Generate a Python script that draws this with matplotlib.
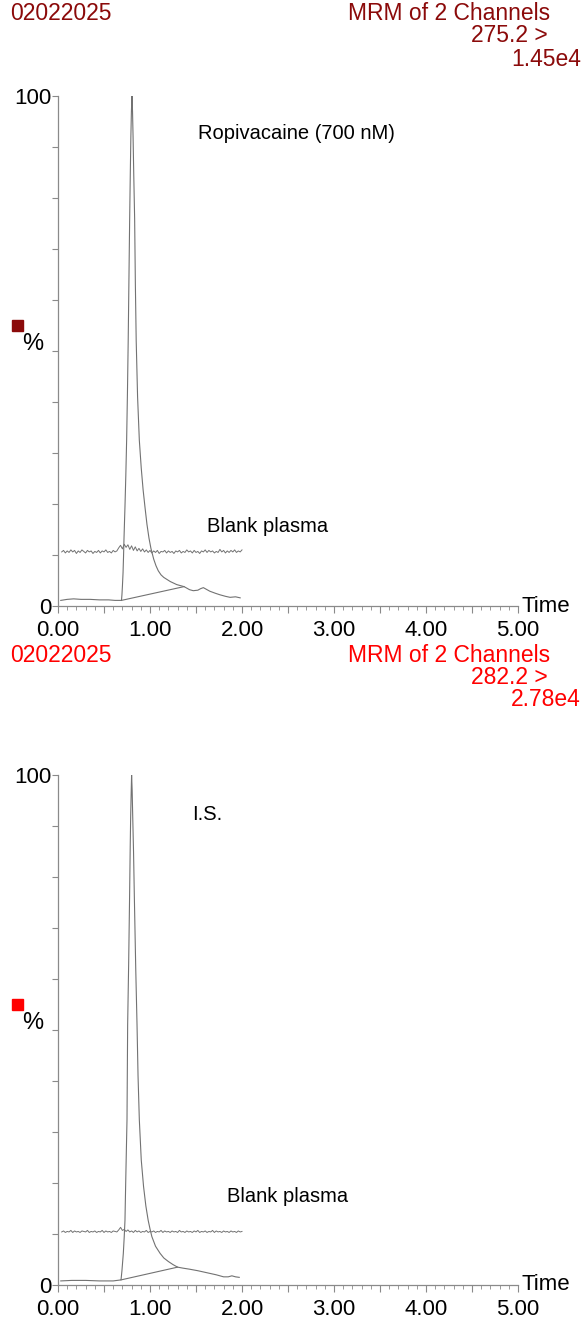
import matplotlib

matplotlib.use("Agg")
import matplotlib.pyplot as plt
import numpy as np
from matplotlib.patches import Rectangle
from matplotlib.ticker import MultipleLocator, FixedLocator, FuncFormatter

plt.rcParams["font.family"] = ["Liberation Sans", "DejaVu Sans"]

W, H = 586, 1321

# ---- header texts ----
run_id = "02022025"
header_title = "MRM of 2 Channels"
transitions = ["275.2 >", "282.2 >"]
intensities = ["1.45e4", "2.78e4"]
header_colors = ["#8b0a0a", "#ff0000"]
peak_labels = ["Ropivacaine (700 nM)", "I.S."]
blank_label = "Blank plasma"

# ---- analyte trace (top), time in min, intensity in % ----
ropi_t = [0.03, 0.10, 0.17, 0.25, 0.35, 0.45, 0.55, 0.62, 0.69, 0.695, 0.70,
          0.707, 0.712, 0.717, 0.722, 0.728, 0.737, 0.746, 0.755, 0.763, 0.771,
          0.779, 0.786, 0.792, 0.798, 0.804, 0.810, 0.816, 0.824, 0.833, 0.841,
          0.850, 0.865, 0.884, 0.905, 0.925, 0.946, 0.967, 0.989, 1.01, 1.04,
          1.065, 1.09, 1.12, 1.15, 1.185, 1.22, 1.255, 1.29, 1.33, 1.37, 1.43,
          1.47, 1.52, 1.55, 1.58, 1.62, 1.65, 1.71, 1.76, 1.82, 1.87, 1.93, 1.98]
ropi_y = [1.1, 1.3, 1.4, 1.3, 1.3, 1.2, 1.2, 1.1, 1.1, 2.2, 3.8,
          6.5, 9.5, 13.0, 16.0, 19.5, 25.5, 32.5, 42.0, 52.0, 64.0,
          76.0, 85.0, 92.0, 97.0, 100.0, 97.0, 92.0, 84.0, 76.0, 63.0,
          52.0, 41.0, 32.5, 27.0, 22.8, 19.3, 16.0, 13.3, 11.3, 9.2,
          7.9, 6.9, 6.1, 5.6, 5.2, 4.8, 4.5, 4.2, 4.0, 3.8, 3.2,
          3.0, 3.1, 3.4, 3.6, 3.2, 2.9, 2.5, 2.2, 1.9, 1.7, 1.8, 1.6]
ropi_base = ([0.69, 1.37], [1.1, 3.8])

# ---- internal standard trace (bottom) ----
is_t = [0.03, 0.15, 0.30, 0.45, 0.60, 0.685, 0.695, 0.71, 0.72, 0.728, 0.735,
        0.742, 0.750, 0.757, 0.768, 0.778, 0.785, 0.790, 0.796, 0.800, 0.806,
        0.812, 0.821, 0.830, 0.845, 0.859, 0.870, 0.884, 0.905, 0.930, 0.955,
        0.980, 1.00, 1.02, 1.06, 1.11, 1.15, 1.20, 1.25, 1.30, 1.36, 1.43,
        1.52, 1.62, 1.72, 1.80, 1.85, 1.89, 1.93, 1.97]
is_y = [0.8, 0.9, 0.9, 0.8, 0.8, 1.0, 2.8, 6.2, 9.5, 12.7, 19.3,
        25.5, 32.4, 51.0, 63.0, 76.0, 86.0, 92.0, 97.0, 100.0, 97.0,
        92.0, 85.0, 76.0, 62.0, 51.0, 41.0, 32.4, 24.5, 19.3, 15.5,
        12.7, 11.0, 9.5, 7.6, 6.2, 5.3, 4.6, 4.0, 3.5, 3.3, 3.1,
        2.8, 2.4, 2.0, 1.6, 1.6, 1.8, 1.6, 1.5]
is_base = ([0.685, 1.30], [1.0, 3.5])

# ---- blank plasma overlays (offset traces), 0.04..2.00 min every 0.02 ----
blank_t = np.round(np.arange(0.04, 2.001, 0.02), 2)
blank_top = [
    10.6, 10.9, 10.4, 10.8, 10.5, 11.0, 10.6, 10.9, 10.3, 10.8,
    10.5, 11.0, 10.7, 10.4, 10.9, 10.6, 10.8, 10.3, 10.7, 10.5,
    10.9, 10.4, 10.8, 10.6, 11.0, 10.5, 10.7, 10.4, 10.9, 10.6,
    10.8, 11.4, 11.9, 11.2, 12.1, 11.5, 12.0, 11.1, 11.8, 10.9,
    11.6, 10.8, 11.3, 10.7, 11.2, 10.6, 11.0, 10.5, 10.9, 10.4,
    10.8, 10.5, 10.9, 10.3, 10.7, 10.6, 10.9, 10.4, 10.8, 10.5,
    10.7, 10.3, 10.8, 10.6, 10.9, 10.4, 10.7, 10.5, 11.0, 10.6,
    10.8, 10.4, 10.9, 10.5, 10.7, 10.3, 10.8, 10.6, 11.0, 10.5,
    10.9, 10.6, 10.8, 10.4, 10.7, 10.5, 11.1, 10.6, 10.9, 10.4,
    10.8, 10.5, 10.9, 10.6, 11.0, 10.5, 10.8, 10.6, 11.0]
blank_bot = [
    10.4, 10.6, 10.3, 10.5, 10.4, 10.7, 10.3, 10.6, 10.4, 10.5,
    10.3, 10.6, 10.5, 10.4, 10.7, 10.3, 10.5, 10.4, 10.6, 10.3,
    10.5, 10.4, 10.7, 10.3, 10.6, 10.4, 10.5, 10.3, 10.6, 10.5,
    10.4, 10.8, 11.3, 10.7, 10.9, 10.5, 10.8, 10.4, 10.6, 10.3,
    10.7, 10.4, 10.6, 10.3, 10.5, 10.4, 10.7, 10.3, 10.5, 10.4,
    10.6, 10.3, 10.5, 10.4, 10.7, 10.3, 10.6, 10.4, 10.5, 10.3,
    10.6, 10.4, 10.5, 10.3, 10.7, 10.4, 10.5, 10.3, 10.6, 10.4,
    10.5, 10.3, 10.6, 10.4, 10.7, 10.3, 10.5, 10.4, 10.6, 10.3,
    10.5, 10.4, 10.7, 10.3, 10.6, 10.4, 10.5, 10.3, 10.6, 10.4,
    10.5, 10.3, 10.6, 10.4, 10.5, 10.3, 10.6, 10.4, 10.5]

TRACE = "#727272"
AXIS = "#8a8a8a"


def px(x, y):
    """figure pixel (from top-left) -> figure fraction"""
    return x / W, 1 - y / H


fig = plt.figure(figsize=(W / 100, H / 100), dpi=100)

panels = [
    dict(y0=96, y1=606, t=ropi_t, y=ropi_y, base=ropi_base, blank=blank_top,
         label_xy=(1.52, 92.7), blank_xy=(1.62, 15.5), hdr_y=14),
    dict(y0=775, y1=1285, t=is_t, y=is_y, base=is_base, blank=blank_bot,
         label_xy=(1.46, 92.2), blank_xy=(1.84, 17.3), hdr_y=655),
]

for i, p in enumerate(panels):
    left, bottom = px(58, p["y1"])
    ax = fig.add_axes([left, bottom, 460 / W, (p["y1"] - p["y0"]) / H])
    ax.plot(p["t"], p["y"], color=TRACE, lw=0.8)
    ax.plot(*p["base"], color=TRACE, lw=0.8)
    ax.plot(blank_t, p["blank"], color=TRACE, lw=0.7)
    ax.text(*p["label_xy"], peak_labels[i], fontsize=14.5, va="center", ha="left")
    ax.text(*p["blank_xy"], blank_label, fontsize=14.5, va="center", ha="left")

    ax.set_xlim(0, 5)
    ax.set_ylim(0, 100)
    for s in ("top", "right"):
        ax.spines[s].set_visible(False)
    for s in ("left", "bottom"):
        ax.spines[s].set_color(AXIS)
        ax.spines[s].set_linewidth(0.9)

    ax.xaxis.set_major_locator(MultipleLocator(0.5))
    ax.xaxis.set_minor_locator(MultipleLocator(0.1))
    ax.xaxis.set_major_formatter(
        FuncFormatter(lambda v, _: f"{v:.2f}" if abs(v - round(v)) < 1e-6 else ""))
    ax.yaxis.set_major_locator(FixedLocator(np.arange(0, 101, 10)))
    ax.yaxis.set_major_formatter(
        FuncFormatter(lambda v, _: f"{v:.0f}" if v in (0, 100) else ""))
    ax.tick_params(axis="x", which="major", length=5, width=0.8, color=AXIS,
                   labelsize=16, pad=5)
    ax.tick_params(axis="x", which="minor", length=3, width=0.6, color=AXIS)
    ax.tick_params(axis="y", which="major", length=4, width=0.8, color=AXIS,
                   labelsize=16, pad=0.5)
    ax.text(1.008, 0.0, "Time", transform=ax.transAxes, fontsize=16,
            ha="left", va="center")

    # header block
    c = header_colors[i]
    hy = p["hdr_y"]
    fig.text(*px(10, hy), run_id, color=c, fontsize=16.5, ha="left", va="center")
    fig.text(*px(550, hy), header_title, color=c, fontsize=16.5, ha="right", va="center")
    fig.text(*px(548, hy + 22), transitions[i], color=c, fontsize=16.5,
             ha="right", va="center")
    fig.text(*px(581, hy + 45), intensities[i], color=c, fontsize=16.5,
             ha="right", va="center")

    # % axis marker
    mid = p["y1"] - 0.5 * (p["y1"] - p["y0"])
    fig.patches.append(Rectangle(px(12, mid - 20), 11 / W, 11 / H, color=c,
                                 transform=fig.transFigure, figure=fig))
    fig.text(*px(33, mid - 7), "%", fontsize=17, ha="center", va="center")

fig.savefig("out.png", dpi=100)
